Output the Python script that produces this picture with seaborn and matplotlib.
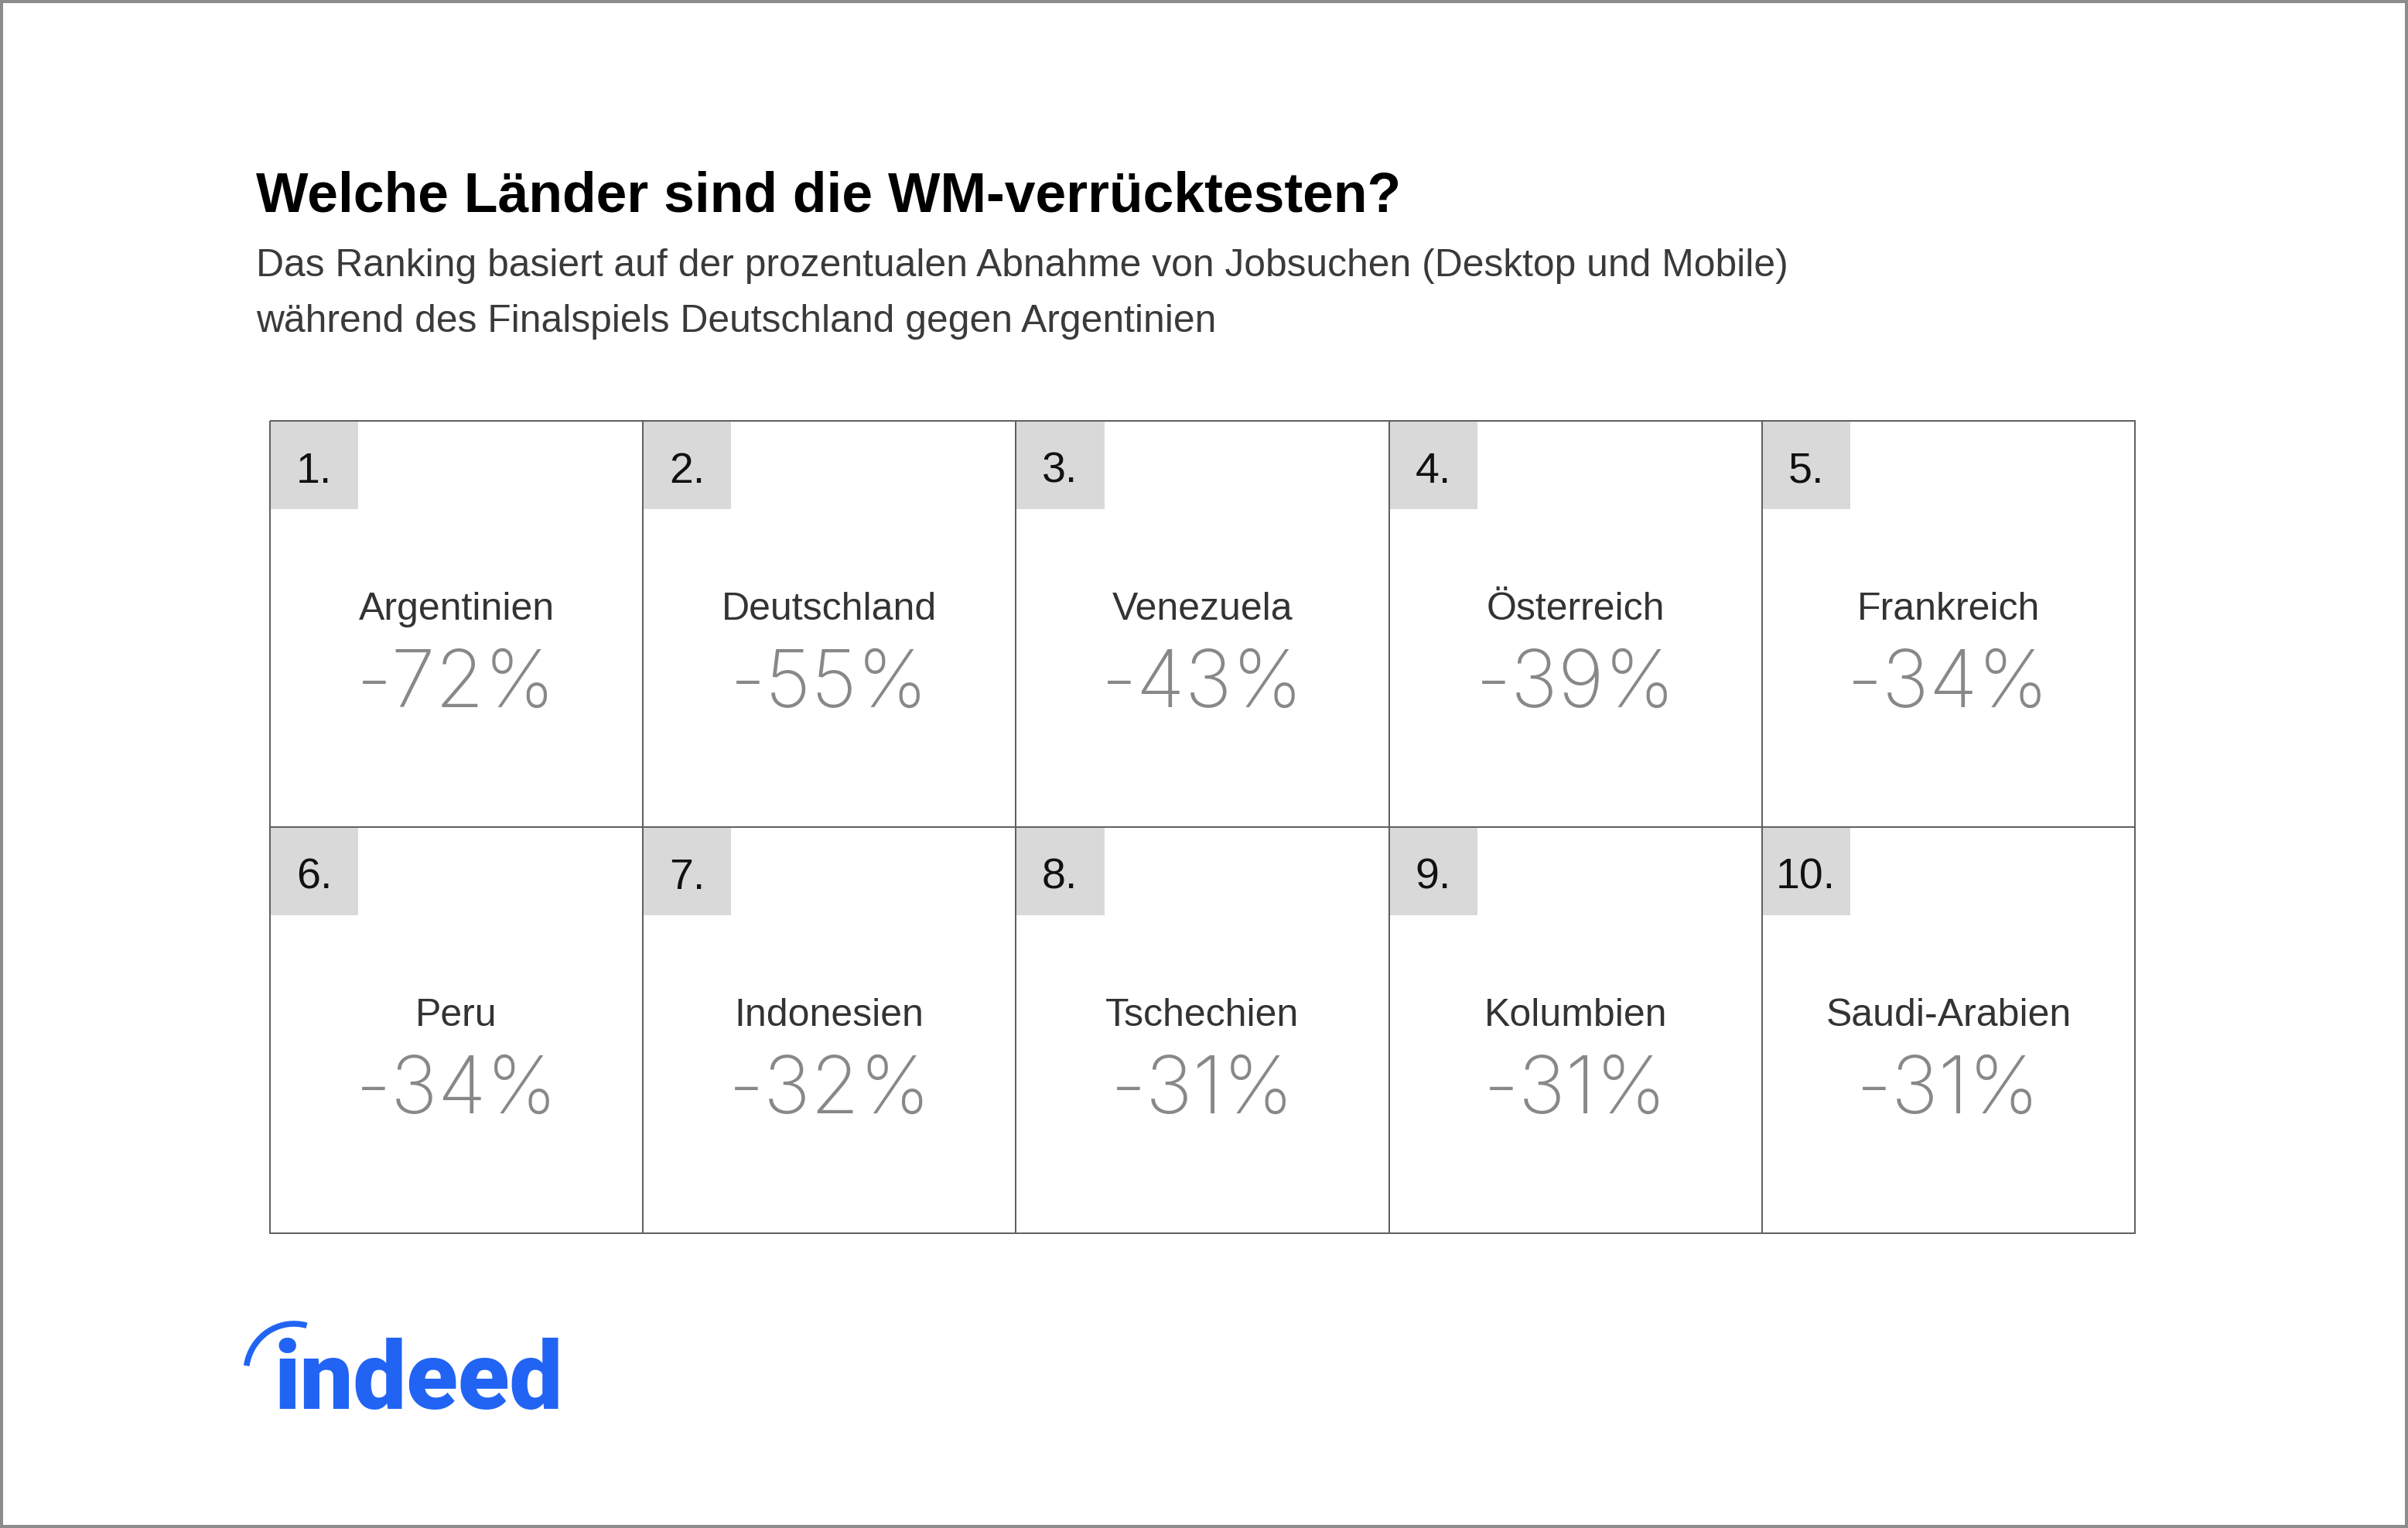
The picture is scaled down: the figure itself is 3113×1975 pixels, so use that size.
import numpy as np
import pandas as pd
import matplotlib
matplotlib.use("Agg")
import matplotlib.pyplot as plt
from matplotlib.colors import ListedColormap
from matplotlib.patches import Rectangle, Arc
import seaborn as sns

# Ranking data (Abnahme der Jobsuchen in %)
ranks = ["1.", "2.", "3.", "4.", "5.", "6.", "7.", "8.", "9.", "10."]
countries = ["Argentinien", "Deutschland", "Venezuela", "Österreich", "Frankreich",
             "Peru", "Indonesien", "Tschechien", "Kolumbien", "Saudi-Arabien"]
change = [-72, -55, -43, -39, -34, -34, -32, -31, -31, -31]

title = "Welche Länder sind die WM-verrücktesten?"
subtitle = ["Das Ranking basiert auf der prozentualen Abnahme von Jobsuchen (Desktop und Mobile)",
            "während des Finalspiels Deutschland gegen Argentinien"]

n_cols = 5
df = pd.DataFrame({"rank": ranks, "country": countries, "change": change})
df["row"] = np.arange(len(df)) // n_cols
df["col"] = np.arange(len(df)) % n_cols
grid = df.pivot(index="row", columns="col", values="change")

sns.set_style("white")
plt.rcParams["font.family"] = ["Liberation Sans", "DejaVu Sans"]

W, H = 3113, 1975
fig = plt.figure(figsize=(W / 100, H / 100), dpi=100)

# background overlay in pixel coordinates (border, title, logo)
bg = fig.add_axes([0, 0, 1, 1])
bg.set_xlim(0, W)
bg.set_ylim(H, 0)
bg.axis("off")
bg.add_patch(Rectangle((2, 2), W - 4, H - 4, fill=False, ec="#8c8c8c", lw=2.9))

fig.text(331 / W, 1 - 274 / H, title, fontsize=51.5, fontweight="bold",
         color="#000000", va="baseline", ha="left")
fig.text(331 / W, 1 - 357 / H, subtitle[0], fontsize=35.8, color="#3a3a3a",
         va="baseline", ha="left")
fig.text(331 / W, 1 - 429 / H, subtitle[1], fontsize=35.8, color="#3a3a3a",
         va="baseline", ha="left")

# grid of cells
ax = fig.add_axes([349 / W, 1 - 1594 / H, 2411 / W, 1050 / H])
sns.heatmap(grid, cmap=ListedColormap(["white"]), cbar=False, linewidths=1.3,
            linecolor="#606060", xticklabels=False, yticklabels=False, ax=ax)
ax.collections[0].set_clip_on(False)
ax.set_xlabel("")
ax.set_ylabel("")
for s in ax.spines.values():
    s.set_visible(False)

for _, r in df.iterrows():
    c, rw = r["col"], r["row"]
    ax.add_patch(Rectangle((c + 0.002, rw + 0.002), 0.235, 0.215,
                           facecolor="#d9d9d9", edgecolor="none", zorder=3))
    ax.text(c + 0.118, rw + 0.125, r["rank"], fontsize=40, color="#111111",
            ha="center", va="center", zorder=4)
    ax.text(c + 0.5, rw + 0.465, r["country"], fontsize=36, color="#333333",
            ha="center", va="center", zorder=4)
    ax.text(c + 0.5, rw + 0.652, f"{r['change']}%", fontsize=74, color="#888888",
            ha="center", va="center", zorder=4,
            family=["Inter", "Liberation Sans"], fontweight="light")

# indeed logo
fig.text(354 / W, 1 - 1821 / H, "indeed", fontsize=88, fontweight="heavy",
         color="#2164f3", va="baseline", ha="left", family=["Roboto", "DejaVu Sans"])
bg.add_patch(Arc((380, 1775), 124, 128, theta1=189, theta2=285,
                 color="#2164f3", lw=5.5))

fig.savefig("out.png", dpi=100, facecolor="white")
